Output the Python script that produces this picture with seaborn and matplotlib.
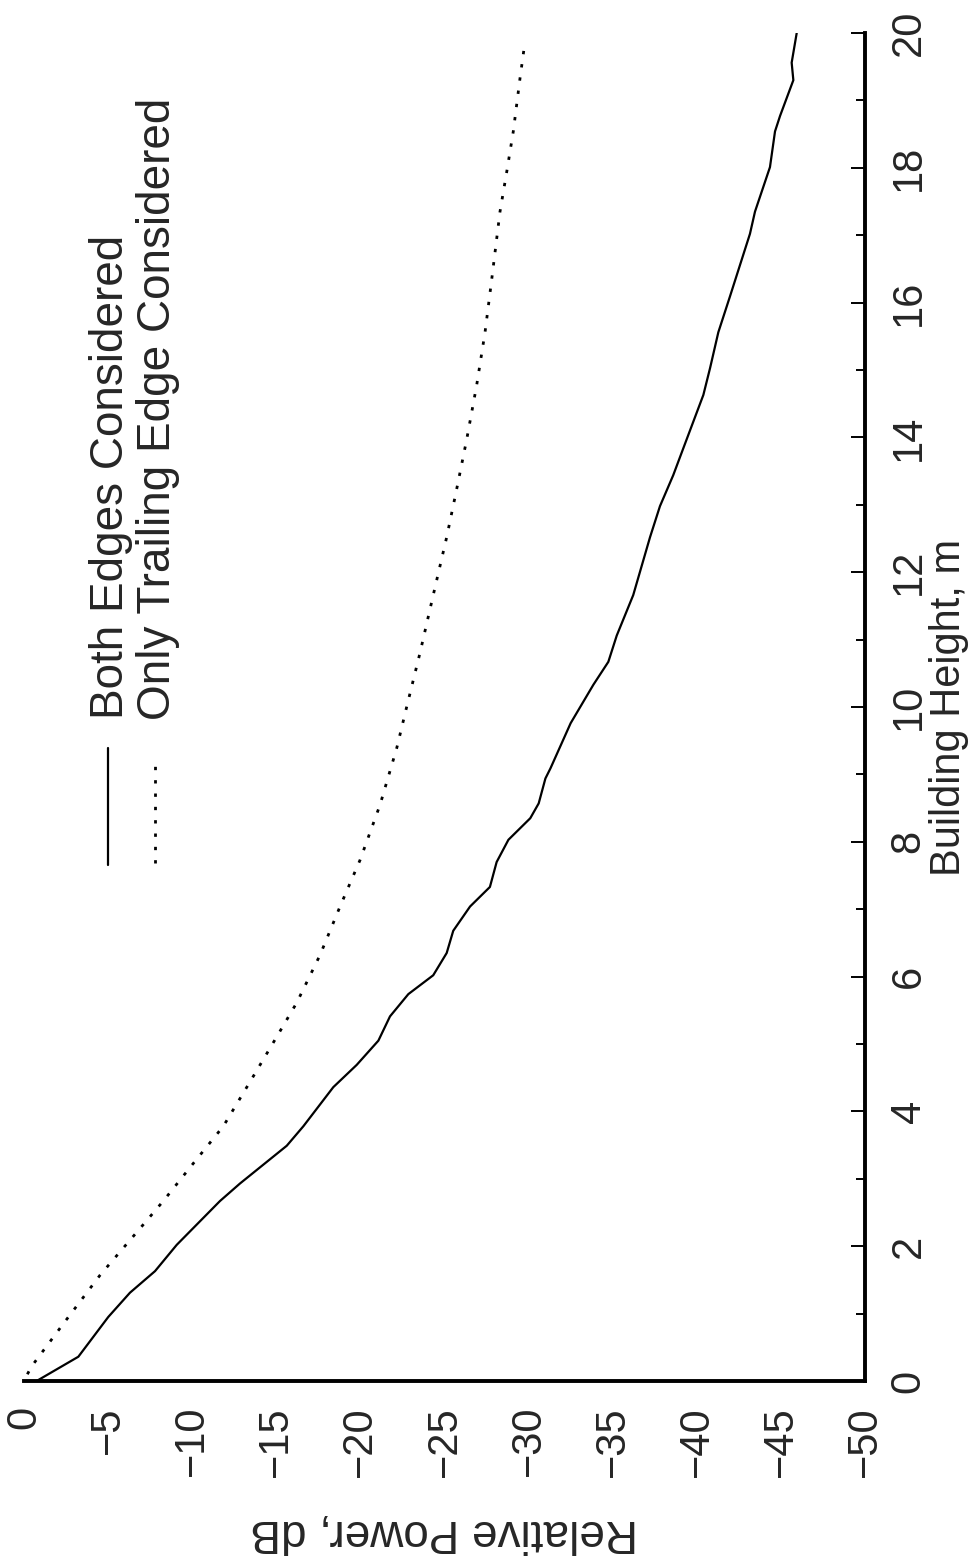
import matplotlib
matplotlib.use('Agg')
import matplotlib.pyplot as plt
import numpy as np
import pandas as pd
import seaborn as sbn

# Building height (m) and relative power (dB)
both_height = [0.0, 0.36, 0.95, 1.31, 1.63, 2.02, 2.67, 2.93, 3.49, 3.78, 4.36, 4.69,
               5.05, 5.41, 5.74, 6.02, 6.35, 6.68, 7.04, 7.33, 7.70, 8.03, 8.35, 8.57,
               8.94, 9.09, 9.76, 10.33, 10.67, 11.06, 11.66, 12.52, 12.98, 13.44, 13.84,
               14.63, 15.03, 15.56, 16.09, 17.02, 17.35, 18.01, 18.54, 18.77, 19.30,
               19.56, 20.0]
both_power = [-0.75, -3.23, -5.01, -6.30, -7.79, -9.08, -11.65, -12.84, -15.62, -16.61,
              -18.39, -19.78, -21.07, -21.76, -22.85, -24.33, -25.13, -25.52, -26.52,
              -27.70, -28.1, -28.8, -30.1, -30.6, -31.0, -31.3, -32.5, -33.85, -34.74,
              -35.24, -36.22, -37.22, -37.81, -38.6, -39.2, -40.39, -40.79, -41.28,
              -41.97, -43.16, -43.46, -44.35, -44.65, -44.95, -45.74, -45.64, -45.94]

trail_height = [0.1, 0.22, 0.85, 1.57, 2.32, 2.67, 3.23, 3.78, 4.44, 5.02, 5.61, 6.32,
                7.04, 7.73, 8.55, 9.39, 10.0, 10.80, 11.66, 12.52, 13.24, 13.97, 14.77,
                15.56, 16.35, 17.35, 17.94, 18.54, 19.33, 19.88]
trail_power = [-0.2, -0.46, -2.34, -4.52, -7.09, -8.28, -10.07, -11.85, -13.44, -14.82,
               -16.21, -17.6, -18.79, -19.98, -21.17, -22.16, -22.75, -23.54, -24.33,
               -25.13, -25.73, -26.32, -26.91, -27.41, -27.81, -28.30, -28.70, -29.09,
               -29.49, -29.79]

power_ticks = [0, -5, -10, -15, -20, -25, -30, -35, -40, -45, -50]
height_ticks = [0, 2, 4, 6, 8, 10, 12, 14, 16, 18, 20]

sbn.set_style('white')
plt.rcParams['font.family'] = ['Liberation Sans', 'DejaVu Sans']
FS_TICK = 30
FS_TEXT = 33

fig = plt.figure(figsize=(9.77, 15.6), dpi=100)
ax = fig.add_axes([24 / 977, 1 - 1381 / 1560, 841 / 977, 1348 / 1560])

both = pd.DataFrame({'power': both_power, 'height': both_height})
trail = pd.DataFrame({'power': trail_power, 'height': trail_height})
sbn.lineplot(data=both, x='power', y='height', sort=False, estimator=None,
             color='black', lw=1.6, ax=ax)
sbn.lineplot(data=trail, x='power', y='height', sort=False, estimator=None,
             color='black', lw=2.0, ax=ax)
ax.lines[-1].set_linestyle((0, (1.2, 3.6)))

ax.set_xlim(0, -50)
ax.set_ylim(0, 20)
for s in ['top', 'left']:
    ax.spines[s].set_visible(False)
for s in ['bottom', 'right']:
    ax.spines[s].set_linewidth(2.8)
    ax.spines[s].set_color('black')

ax.set_xticks(power_ticks)
ax.set_xticks(np.array(power_ticks[:-1]) - 2.5, minor=True)
ax.set_yticks(height_ticks)
ax.set_yticks(np.array(height_ticks[:-1]) + 1, minor=True)
ax.yaxis.tick_right()
ax.tick_params(axis='both', which='major', direction='in', length=10, width=1.4,
               color='black', labelsize=FS_TICK)
ax.tick_params(axis='both', which='minor', direction='in', length=6.5, width=1.4,
               color='black')
ax.tick_params(axis='x', which='major', pad=18)
ax.tick_params(axis='y', which='major', pad=17)
for lbl in ax.get_xticklabels():
    lbl.set_rotation(90)
    lbl.set_va('top')
    lbl.set_ha('center')
for lbl in ax.get_yticklabels():
    lbl.set_rotation(90)
    lbl.set_va('center')
    lbl.set_ha('left')

ax.set_xlabel('Relative Power, dB', fontsize=FS_TEXT, rotation=180)
ax.xaxis.set_label_coords(0.5, -(1510 - 1381) / 1348)
ax.yaxis.set_label_position('right')
ax.set_ylabel('Building Height, m', fontsize=30, rotation=90)
ax.yaxis.set_label_coords((929 - 24) / 841, 0.5)

# legend drawn by hand, rotated like the rest of the chart
ax.plot([0.0999, 0.0999], [0.3828, 0.4696], transform=ax.transAxes,
        color='black', lw=1.6, clip_on=False)
ax.plot([0.1558, 0.1558], [0.3843, 0.4629], transform=ax.transAxes,
        color='black', lw=2.0, ls=(0, (1.2, 3.6)), clip_on=False)
ax.text(0.1177, 0.491, 'Both Edges Considered', transform=ax.transAxes,
        rotation=90, rotation_mode='anchor', ha='left', va='baseline', fontsize=FS_TEXT)
ax.text(0.1736, 0.490, 'Only Trailing Edge Considered', transform=ax.transAxes,
        rotation=90, rotation_mode='anchor', ha='left', va='baseline', fontsize=FS_TEXT)

fig.savefig('out.png', dpi=100, facecolor='white')
